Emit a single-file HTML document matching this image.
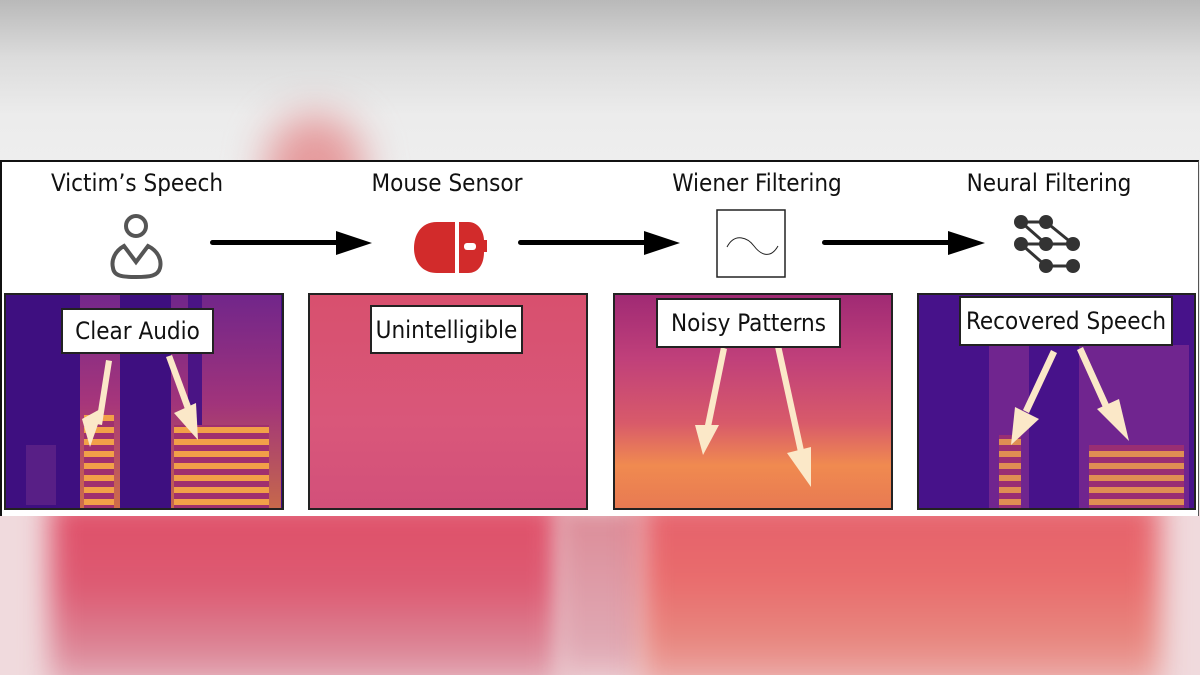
<!DOCTYPE html>
<html><head><meta charset="utf-8"><style>
html,body{margin:0;padding:0;width:1200px;height:675px;overflow:hidden}
body{position:relative;background:#e8e8e8;font-family:"Liberation Sans",sans-serif}
.abs{position:absolute}
.lbl{position:absolute;background:#fff;border:2px solid #222;font-size:24px;color:#111;display:flex;align-items:center;justify-content:center;box-sizing:border-box;font-family:"DejaVu Sans Condensed","Liberation Sans Narrow","Liberation Sans",sans-serif;white-space:nowrap}
.title{position:absolute;top:169px;font-size:24px;color:#111;text-align:center;width:260px;font-family:"DejaVu Sans Condensed","Liberation Sans",sans-serif}
.spec{position:absolute;top:293px;height:217px;border:2px solid #222;box-sizing:border-box;overflow:hidden}
</style></head><body>
<div class="abs" style="left:0;top:0;width:1200px;height:165px;background:linear-gradient(#b9b9b9,#dcdcdc 35%,#ececec 70%,#eeeeee)"></div>
<div class="abs" style="left:265px;top:115px;width:100px;height:110px;border-radius:50%;background:#e59a9c;filter:blur(20px)"></div>
<div class="abs" style="left:0;top:510px;width:1200px;height:165px;background:#f0dadd;overflow:hidden">
<div class="abs" style="left:50px;top:-10px;width:510px;height:190px;background:linear-gradient(#e04f68,#dd5a72 45%,#dc8898 80%,#e6b5c0);filter:blur(14px)"></div>
<div class="abs" style="left:560px;top:0;width:80px;height:170px;background:linear-gradient(#dc8c98,#e0a9b4 80%,#e9c3ca);filter:blur(10px)"></div>
<div class="abs" style="left:640px;top:-10px;width:520px;height:190px;background:linear-gradient(#e5606c,#e96b6c 40%,#e88880 75%,#ecb1b0);filter:blur(14px)"></div>
</div>
<div class="abs" style="left:0;top:160px;width:1199px;height:356px;background:#fff;border-top:2px solid #111;border-left:2px solid #111;border-right:1px solid #555;box-sizing:border-box"></div>
<div class="title" style="left:7px">Victim’s Speech</div>
<div class="title" style="left:317px">Mouse Sensor</div>
<div class="title" style="left:627px">Wiener Filtering</div>
<div class="title" style="left:919px">Neural Filtering</div>
<svg class="abs" style="left:0;top:0" width="1200" height="675">
 <g fill="none" stroke="#555" stroke-width="4">
  <circle cx="136" cy="226" r="10"/>
  <path d="M124 246 L136 262 L148 246 C158 251 162 260 160 268 C158 276 150 277 136 277 C122 277 114 276 113 268 C111 260 115 251 124 246 Z"/>
 </g>
 <g fill="#000">
  <rect x="210" y="240" width="130" height="5" rx="2.5"/><polygon points="336,231 372,243 336,255"/>
  <rect x="518" y="240" width="130" height="5" rx="2.5"/><polygon points="644,231 680,243 644,255"/>
  <rect x="822" y="240" width="130" height="5" rx="2.5"/><polygon points="948,231 985,243 948,255"/>
 </g>
 <g fill="#d22b2b">
  <path d="M455 222 L437 222 C420 222 414 236 414 248 C414 262 422 273 437 273 L455 273 Z"/>
  <path d="M459 222 L468 222 C480 222 484 234 484 240 L487 240 L487 252 L484 252 C484 262 480 273 468 273 L459 273 Z"/>
 </g>
 <rect x="464" y="243" width="12" height="7" rx="3" fill="#fff"/>
 <rect x="717" y="210" width="68" height="67" fill="#fff" stroke="#222" stroke-width="1.5"/>
 <path d="M727 247 C735 232 748 238 754 246 C760 254 770 260 778 246" fill="none" stroke="#222" stroke-width="1"/>
 <g stroke="#333" stroke-width="3">
  <line x1="1021" y1="222" x2="1046" y2="222"/><line x1="1021" y1="244" x2="1073" y2="244"/><line x1="1046" y1="266" x2="1073" y2="266"/>
  <line x1="1021" y1="222" x2="1046" y2="244"/><line x1="1046" y1="222" x2="1073" y2="244"/><line x1="1021" y1="244" x2="1046" y2="266"/>
 </g>
 <g fill="#333">
  <circle cx="1021" cy="222" r="7"/><circle cx="1046" cy="222" r="7"/>
  <circle cx="1021" cy="244" r="7"/><circle cx="1046" cy="244" r="7"/><circle cx="1073" cy="244" r="7"/>
  <circle cx="1046" cy="266" r="7"/><circle cx="1073" cy="266" r="7"/>
 </g>
</svg>
<div class="spec" style="left:4px;width:280px;background:#3e0f80">
 <svg width="280" height="217" class="abs" style="left:0;top:0">
  <defs><linearGradient id="g1" x1="0" y1="0" x2="0" y2="1"><stop offset="0" stop-color="#7a2a8c"/><stop offset="0.5" stop-color="#b23a7a"/><stop offset="1" stop-color="#e07a40"/></linearGradient>
  <pattern id="st" width="10" height="12" patternUnits="userSpaceOnUse"><rect width="10" height="6" fill="#f2a048"/><rect y="6" width="10" height="6" fill="#a0306e"/></pattern></defs>
  <rect x="74" y="0" width="40" height="217" fill="url(#g1)" opacity="0.9"/>
  <rect x="78" y="120" width="30" height="95" fill="url(#st)"/>
  <rect x="165" y="0" width="110" height="217" fill="url(#g1)" opacity="0.85"/>
  <rect x="182" y="0" width="14" height="217" fill="#4a1485"/>
  <rect x="168" y="130" width="95" height="85" fill="url(#st)"/>
  <rect x="20" y="150" width="30" height="60" fill="#6a2a8a" opacity="0.6"/>
  <g fill="#fbe8c8"><polygon points="100,65 106,66 96,130 90,129"/><polygon points="76,124 98,112 84,152"/>
  <polygon points="160,62 166,60 186,114 180,117"/><polygon points="168,118 190,108 192,145"/></g>
 </svg>
</div>
<div class="spec" style="left:308px;width:280px;background:linear-gradient(#d8506e,#d9577a 60%,#d2507a)"></div>
<div class="spec" style="left:613px;width:280px;background:linear-gradient(#a02a74,#c0407a 30%,#d85a6a 60%,#f08a50 80%,#e87a52)">
 <svg width="280" height="217" class="abs" style="left:0;top:0"><g fill="#fbe8c8">
  <polygon points="106,52 112,54 96,132 90,130"/><polygon points="80,130 104,130 88,160"/>
  <polygon points="160,52 166,50 190,160 184,162"/><polygon points="172,158 196,152 196,192"/></g></svg>
</div>
<div class="spec" style="left:917px;width:279px;background:#47128a">
 <svg width="279" height="217" class="abs" style="left:0;top:0">
  <rect x="70" y="50" width="40" height="167" fill="#7a2a90" opacity="0.8"/>
  <rect x="80" y="140" width="22" height="75" fill="url(#st)" opacity="0.85"/>
  <rect x="160" y="50" width="110" height="167" fill="#7a2a90" opacity="0.8"/>
  <rect x="170" y="150" width="95" height="65" fill="url(#st)" opacity="0.85"/>
  <g fill="#fbe8c8"><polygon points="132,55 138,58 110,118 104,115"/><polygon points="96,112 120,124 92,150"/>
  <polygon points="158,55 164,52 192,114 186,117"/><polygon points="178,114 200,104 210,146"/></g>
 </svg>
</div>
<div class="lbl" style="left:61px;top:308px;width:153px;height:46px">Clear Audio</div>
<div class="lbl" style="left:370px;top:305px;width:153px;height:49px">Unintelligible</div>
<div class="lbl" style="left:656px;top:298px;width:185px;height:50px">Noisy Patterns</div>
<div class="lbl" style="left:959px;top:296px;width:214px;height:50px">Recovered Speech</div>
</body></html>
